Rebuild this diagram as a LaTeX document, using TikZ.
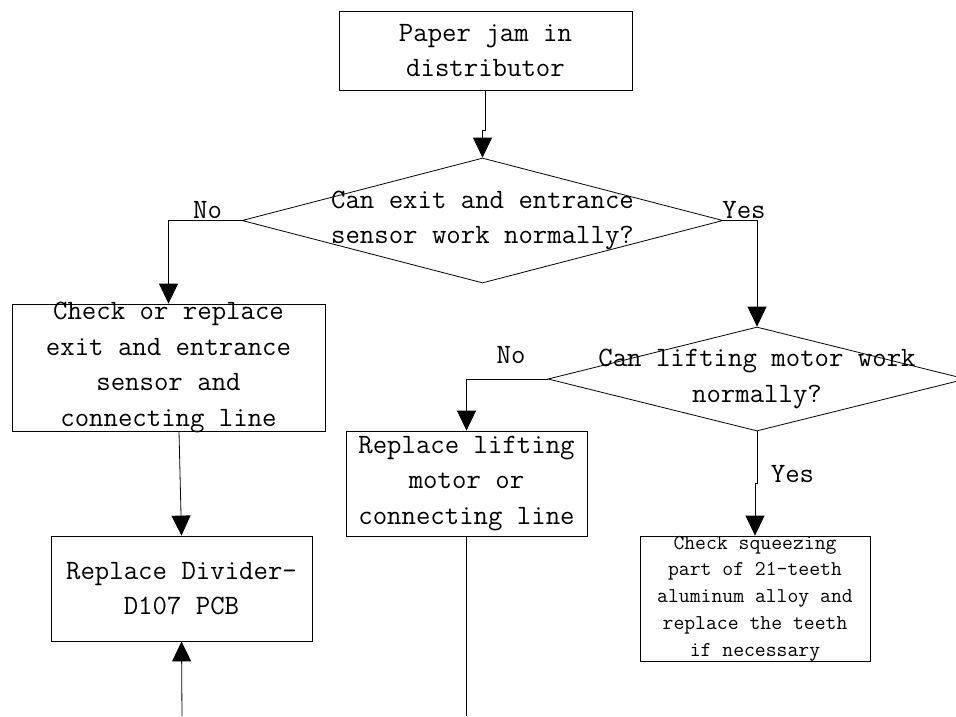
\documentclass[tikz,border=0pt]{standalone}
\usepackage{fontspec}
\usetikzlibrary{shapes.geometric,arrows.meta}
\begin{document}
\begin{tikzpicture}[x=1pt,y=-1pt,
  line/.style={draw=black,line width=0.8pt},
  arr/.style={line,-{Triangle[length=20pt,width=19pt]}},
  box/.style={draw=black,line width=0.8pt,rectangle,inner sep=0pt},
  dia/.style={draw=black,line width=0.8pt,diamond,inner sep=0pt},
  txt/.style={align=center,inner sep=0pt,font=\ttfamily\fontsize{28}{35.5}\selectfont},
  small/.style={align=center,inner sep=0pt,font=\ttfamily\fontsize{21.1}{26.7}\selectfont},
]
\useasboundingbox (0,0) rectangle (956,716);
\clip (0,0) rectangle (956,716);

\node[box,minimum width=293pt,minimum height=79pt] (top) at (485.5,50.5) {};
\node[txt] (topt) at (top) {Paper jam in\\distributor};

\node[dia,minimum width=481pt,minimum height=125pt] (d1) at (482.5,220.5) {};
\node[txt] (d1t) at (d1) {Can exit and entrance\\sensor work normally?};

\node[box,minimum width=313pt,minimum height=127pt] (b2) at (168.5,367.5) {};
\node[txt] (b2t) at (b2) {Check or replace\\exit and entrance\\sensor and\\connecting line};

\node[box,minimum width=261pt,minimum height=105pt] (b3) at (181.5,588.5) {};
\node[txt] (b3t) at (b3) {Replace Divider-\\D107 PCB};

\node[dia,minimum width=418pt,minimum height=104pt] (d2) at (757,379) {};
\node[txt] (d2t) at (d2) {Can lifting motor work\\normally?};

\node[box,minimum width=241pt,minimum height=105pt] (b4) at (466.5,483.5) {};
\node[txt] (b4t) at (b4) {Replace lifting\\motor or\\connecting line};

\node[box,minimum width=230pt,minimum height=125pt] (b5) at (755,598.5) {};
\node[small] (b5t) at (b5) {Check squeezing\\part of 21-teeth\\aluminum alloy and\\replace the teeth\\if necessary};

\node[txt] (no1) at (207.5,210) {No};
\node[txt] (yes1) at (744,210) {Yes};
\node[txt] (no2) at (511,355) {No};
\node[txt] (yes2) at (792.5,474) {Yes};

\coordinate (in3) at (182,716);
\coordinate (out4) at (466.5,716);

\draw[arr] (top.south) -- ++(0,40) -| (d1.north);
\draw[arr] (d1.west) -| (b2.north);
\draw[arr] (d1.east) -| (d2.north);
\draw[arr] (d2.west) -| (b4.north);
\draw[arr] (d2.south) -- ++(0,52) -| (b5.north);
\draw[arr] ([xshift=10.5pt]b2.south) -- (b3.north);
\draw[arr] (in3) -- (b3.south);
\draw[line] (b4.south) -- (out4);
\end{tikzpicture}
\end{document}
